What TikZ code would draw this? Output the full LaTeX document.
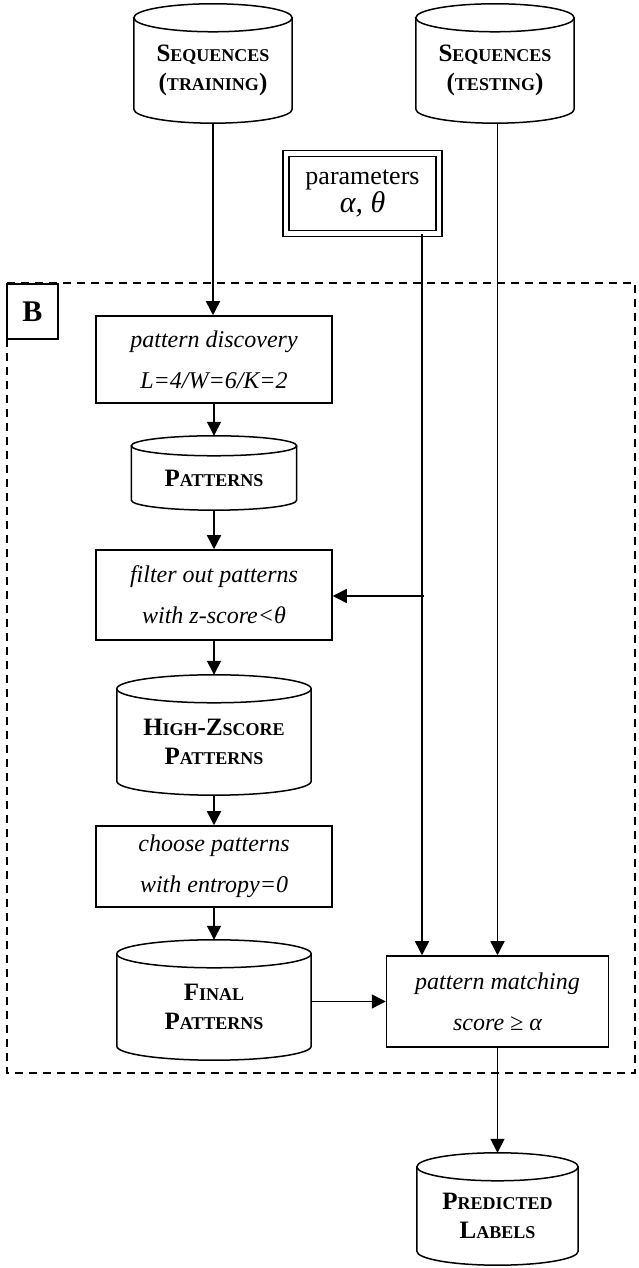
\documentclass[tikz,border=0pt]{standalone}
\usepackage{fontspec}
\setmainfont{Liberation Serif}
\usetikzlibrary{arrows.meta,calc}
\newcommand\smc[1]{{\fontsize{18}{29}\selectfont #1}}
\newcommand\drawcyl[2]{%
  \draw[cylline] let \p1=(#1.north west), \p2=(#1.south east), \n1={(\x2-\x1)/2} in
    (\x1,\y1-#2pt) -- (\x1,\y2+#2pt) arc[start angle=180,end angle=360,x radius=\n1,y radius=#2pt] -- (\x2,\y1-#2pt);
  \draw[cylline] let \p1=(#1.north west), \p2=(#1.south east), \n1={(\x2-\x1)/2} in
    (\x1+\n1,\y1-#2pt) ellipse [x radius=\n1,y radius=#2pt];
}
\tikzset{
  cylline/.style={line width=1.5pt},
  db/.style={inner sep=0pt,align=center,font=\bfseries\fontsize{25}{29}\selectfont},
  proc/.style={draw,line width=1.5pt,inner sep=0pt,align=center,font=\itshape\fontsize{24}{41}\selectfont},
  conn/.style={line width=1.5pt,-{Triangle[length=14pt,width=14pt]}},
}
\begin{document}
\begin{tikzpicture}[x=1pt,y=1pt]
\useasboundingbox (0,0) rectangle (638,1268);
% dashed region
\draw[line width=1.5pt,dash pattern=on 8pt off 6pt] (7,985) rectangle (635,195);
\node[draw,fill=white,line width=1.5pt,minimum width=51pt,minimum height=55pt,inner sep=0pt,font=\bfseries\fontsize{30}{30}\selectfont] (B) at (32.5,956.5) {B};

% databases
\node[db,minimum width=158pt,minimum height=119pt] (train) at (213,1204.5) {};
\node[db] at (213,1197.5) {S\smc{EQUENCES}\\(\smc{TRAINING})};
\drawcyl{train}{14}
\node[db,minimum width=158pt,minimum height=119pt] (test) at (495,1204.5) {};
\node[db] at (495,1197.5) {S\smc{EQUENCES}\\(\smc{TESTING})};
\drawcyl{test}{14}

\node[draw,double,double distance=4.5pt,line width=1.5pt,minimum width=153pt,minimum height=80pt,inner sep=0pt,align=center] (params) at (362.5,1074.5)
  {{\fontsize{26}{33}\selectfont parameters}\\{\fontsize{30}{33}\selectfont\itshape α, θ}};

\node[proc,minimum width=236pt,minimum height=87pt] (disc) at (214,908.5) {pattern discovery\\L=4/W=6/K=2};

\node[db,minimum width=165pt,minimum height=74pt] (pat) at (214,795) {};
\node[db] at (214,790) {P\smc{ATTERNS}};
\drawcyl{pat}{10}

\node[proc,minimum width=236pt,minimum height=90pt] (filter) at (214,673) {filter out patterns\\with z-score<θ};

\node[db,minimum width=194pt,minimum height=120pt] (high) at (214,533) {};
\node[db] at (214,526) {H\smc{IGH}-Z\smc{SCORE}\\P\smc{ATTERNS}};
\drawcyl{high}{14}

\node[proc,minimum width=236pt,minimum height=81pt] (choose) at (214,401.5) {choose patterns\\with entropy=0};

\node[db,minimum width=194pt,minimum height=120pt] (final) at (214,268) {};
\node[db] at (214,261) {F\smc{INAL}\\P\smc{ATTERNS}};
\drawcyl{final}{14}

\node[proc,minimum width=222pt,minimum height=91pt] (match) at (497.5,266.5) {pattern matching\\score ≥ α};

\node[db,minimum width=161pt,minimum height=112pt] (pred) at (497.5,59) {};
\node[db] at (497.5,52) {P\smc{REDICTED}\\L\smc{ABELS}};
\drawcyl{pred}{14}

% connectors
\coordinate (pj) at (422,672);
\coordinate (tj) at (497.5,0);
\draw[conn] (train.south) -- (disc.north -| train.south);
\draw[conn] (disc.south) -- (pat.north);
\draw[conn] (pat.south) -- (filter.north);
\draw[conn] (filter.south) -- (high.north);
\draw[conn] (high.south) -- (choose.north);
\draw[conn] (choose.south) -- (final.north);
\draw[conn] (final.east |- match.west) -- (match.west);
\draw[conn] (params.south -| pj) -- (match.north -| pj);
\draw[conn] ([xshift=2pt]pj) -- (filter.east |- pj);
\draw[conn] (test.south -| tj) -- (match.north -| tj);
\draw[conn] (match.south) -- (pred.north);
\end{tikzpicture}
\end{document}
